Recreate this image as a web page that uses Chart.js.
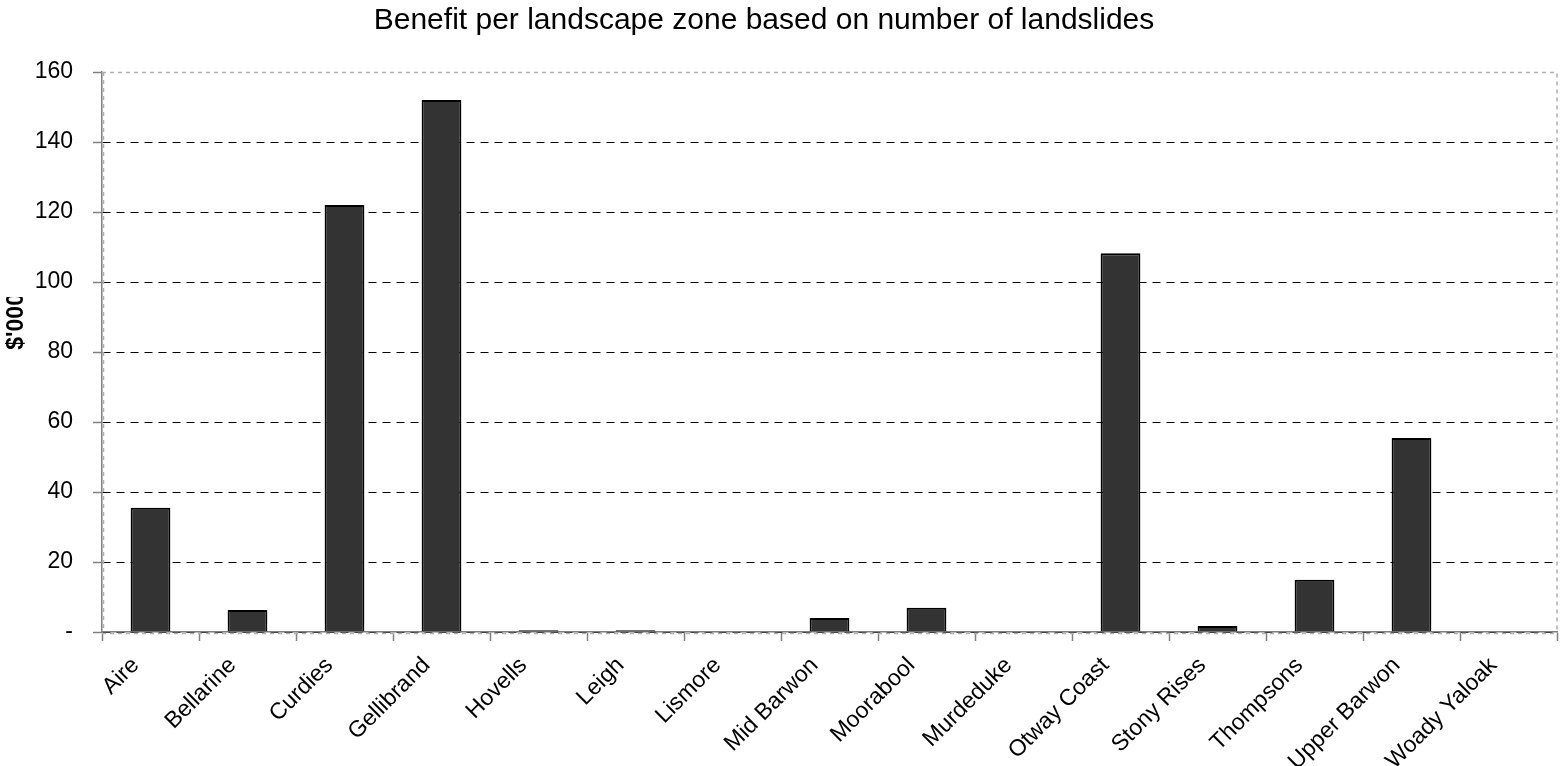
<!DOCTYPE html>
<html>
<head>
<meta charset="utf-8">
<script src="https://cdn.jsdelivr.net/npm/chart.js@4"></script>
<style>
  html, body { margin: 0; padding: 0; background: #fff; }
  #wrap { width: 1562px; height: 766px; }
</style>
</head>
<body>
<div id="wrap"><canvas id="barChart"></canvas></div>
<script>
const zones = ['Aire', 'Bellarine', 'Curdies', 'Gellibrand', 'Hovells', 'Leigh', 'Lismore',
    'Mid Barwon', 'Moorabool', 'Murdeduke', 'Otway Coast', 'Stony Rises', 'Thompsons',
    'Upper Barwon', 'Woady Yaloak'];
const benefit = [35.5, 6.3, 122, 152, 0.5, 0.5, 0, 4, 6.9, 0, 108.2, 1.7, 14.9, 55.4, 0];
const yTicks = [0, 20, 40, 60, 80, 100, 120, 140, 160];
const chartTitle = 'Benefit per landscape zone based on number of landslides';
const yTitle = "$'000s";

const FONT = '"Liberation Sans", Arial, sans-serif';
Chart.defaults.font.family = FONT;
Chart.defaults.color = '#000';

// title, dashed grey frame round the plot, and the rotated y title (cut off at the top as in the source)
const decor = {
    id: 'decor',
    afterDatasetsDraw(chart) {
        const { ctx, chartArea: a } = chart;
        ctx.save();
        ctx.strokeStyle = '#b0b0b0';
        ctx.lineWidth = 1.5;
        ctx.setLineDash([4, 4]);
        ctx.beginPath();
        ctx.moveTo(a.left, a.top + 0.5);
        ctx.lineTo(a.right, a.top + 0.5);
        ctx.lineTo(a.right, a.bottom);
        ctx.moveTo(a.left + 1.5, a.top);
        ctx.lineTo(a.left + 1.5, a.bottom);
        ctx.moveTo(a.left, a.bottom + 1.5);
        ctx.lineTo(a.right, a.bottom + 1.5);
        ctx.stroke();
        ctx.restore();

        ctx.save();
        ctx.font = '30px ' + FONT;
        ctx.fillStyle = '#000';
        ctx.textAlign = 'center';
        ctx.textBaseline = 'alphabetic';
        ctx.fillText(chartTitle, 764, 29);
        ctx.restore();

        ctx.save();
        ctx.beginPath();
        ctx.rect(0, 297, 40, 100);
        ctx.clip();
        ctx.translate(17, 315);
        ctx.rotate(-Math.PI / 2);
        ctx.font = 'bold 23px ' + FONT;
        ctx.fillStyle = '#000';
        ctx.textAlign = 'center';
        ctx.textBaseline = 'middle';
        ctx.fillText(yTitle, 0, 0);
        ctx.restore();
    }
};

new Chart(document.getElementById('barChart'), {
    type: 'bar',
    data: {
        labels: zones,
        datasets: [{
            label: 'Benefit',
            data: benefit,
            backgroundColor: '#333333',
            borderColor: '#000',
            borderWidth: 2,
            borderSkipped: 'bottom',
            categoryPercentage: 1,
            barPercentage: 0.41
        }]
    },
    options: {
        responsive: true,
        maintainAspectRatio: false,
        animation: false,
        layout: { padding: { left: 0, right: 5, top: 72, bottom: 0 } },
        plugins: {
            legend: { display: false },
            tooltip: { enabled: false },
            title: { display: false }
        },
        scales: {
            x: {
                grid: {
                    offset: true,
                    drawOnChartArea: false,
                    drawTicks: true,
                    tickLength: 9,
                    tickColor: '#808080',
                    tickWidth: 1.5
                },
                border: { color: '#808080', width: 1.5 },
                ticks: {
                    font: { size: 23 },
                    color: '#000',
                    maxRotation: 45,
                    minRotation: 45,
                    padding: 11,
                    labelOffset: -15
                },
                afterFit(scale) { scale.height = 134; }
            },
            y: {
                min: 0,
                max: 160,
                afterBuildTicks(scale) {
                    scale.ticks = yTicks.map(v => ({ value: v }));
                },
                grid: {
                    color: ctx => ctx.tick && ctx.tick.value === 160 ? 'rgba(0,0,0,0)' : '#000',
                    lineWidth: 1,
                    drawTicks: true,
                    tickLength: 9,
                    tickColor: '#808080',
                    tickWidth: 1.5,
                    tickBorderDash: []
                },
                border: { color: '#808080', width: 1.5, dash: [8, 6] },
                ticks: {
                    font: { size: 23 },
                    color: '#000',
                    padding: 20,
                    callback: v => v === 0 ? '-' : v
                },
                afterFit(scale) { scale.width = 102; }
            }
        }
    },
    plugins: [decor]
});
</script>
</body>
</html>
